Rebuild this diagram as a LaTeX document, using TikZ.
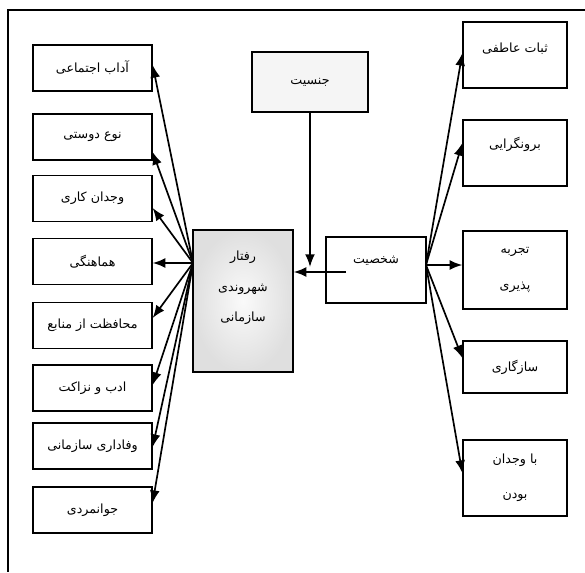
\documentclass[tikz,border=0pt]{standalone}
\usepackage{fontspec}
\newfontfamily\arabicfont[Script=Arabic]{DejaVu Sans}
\TeXXeTstate=1
\usepackage{xcolor}
\usetikzlibrary{positioning, arrows.meta, shapes, calc}

\newcommand{\fa}[1]{\beginR #1\endR}

\begin{document}
\begin{tikzpicture}[x=0.025cm, y=-0.025cm,
    box/.style={draw, line width=0.9pt, inner sep=2pt, align=center,
        font=\arabicfont\fontsize{9}{11}\selectfont},
    lbox/.style={box, minimum width=2.975cm, minimum height=1.15cm},
    rbox/.style={box, minimum width=2.6cm},
    arr/.style={-{Latex[length=9pt, width=7pt]}, line width=1.2pt}]
    \useasboundingbox (0,0) rectangle (585,572);

    % Frame (top and left only)
    \draw[line width=0.9pt] (585,10) -- (8,10) -- (8,572);

    % Left boxes
    \node[lbox] (adab) at (92.5,68) {\fa{آداب اجتماعی}};
    \node[lbox] (nou) at (92.5,137) {\fa{نوع دوستی}};
    \node[lbox] (vojdan) at (92.5,198.5) {\fa{وجدان کاری}};
    \node[lbox] (hamahang) at (92.5,261.5) {\fa{هماهنگی}};
    \node[lbox] (mohafezat) at (92.5,325.5) {\fa{محافظت از منابع}};
    \node[lbox] (nezakat) at (92.5,388) {\fa{ادب و نزاکت}};
    \node[lbox] (vafadari) at (92.5,446) {\fa{وفاداری سازمانی}};
    \node[lbox] (javan) at (92.5,510) {\fa{جوانمردی}};

    % Centre
    \node[box, minimum width=2.5cm, minimum height=3.55cm,
        inner color=gray!4, outer color=gray!25] (raftar) at (243,301)
        {\fa{رفتار}\\[11pt]\fa{شهروندی}\\[11pt]\fa{سازمانی}\\[10pt]};
    \node[box, minimum width=2.5cm, minimum height=1.65cm] (shakhsiat) at (376,270) {\fa{شخصیت}\\[3pt]};
    \node[box, minimum width=2.9cm, minimum height=1.5cm, fill=gray!8] (jensiat) at (310,82) {\fa{جنسیت}};

    % Right boxes
    \node[rbox, minimum height=1.65cm] (sobat) at (515,55) {\fa{ثبات عاطفی}\\[-1pt]};
    \node[rbox, minimum height=1.65cm] (boroon) at (515,153) {\fa{برونگرایی}\\[3pt]};
    \node[rbox, minimum height=1.95cm] (tajrobe) at (515,270) {\fa{تجربه}\\[14pt]\fa{پذیری}};
    \node[rbox, minimum height=1.3cm] (sazgari) at (515,367) {\fa{سازگاری}};
    \node[rbox, minimum height=1.9cm] (bavojdan) at (515,478) {\fa{با وجدان}\\[14pt]\fa{بودن}};

    % Jensiat and Shakhsiat into the centre
    \coordinate (meet) at (310,267);
    \coordinate (shstart) at (346,272);
    \draw[arr] (jensiat.south) -- (meet);
    \draw[arr] (shstart) -- (raftar.east |- shstart);

    % Fans
    \coordinate (lfan) at (193,263);
    \coordinate (rfan) at (426,265);
    \foreach \b/\y in {adab/65, nou/152, vojdan/208, hamahang/263,
        mohafezat/318, nezakat/385, vafadari/447, javan/503}
        \draw[arr] (lfan) -- (\b.east |- 0,\y);
    \foreach \b/\y in {sobat/53, boroon/143, tajrobe/265, sazgari/358, bavojdan/473}
        \draw[arr] (rfan) -- (\b.west |- 0,\y);

\end{tikzpicture}
\end{document}
